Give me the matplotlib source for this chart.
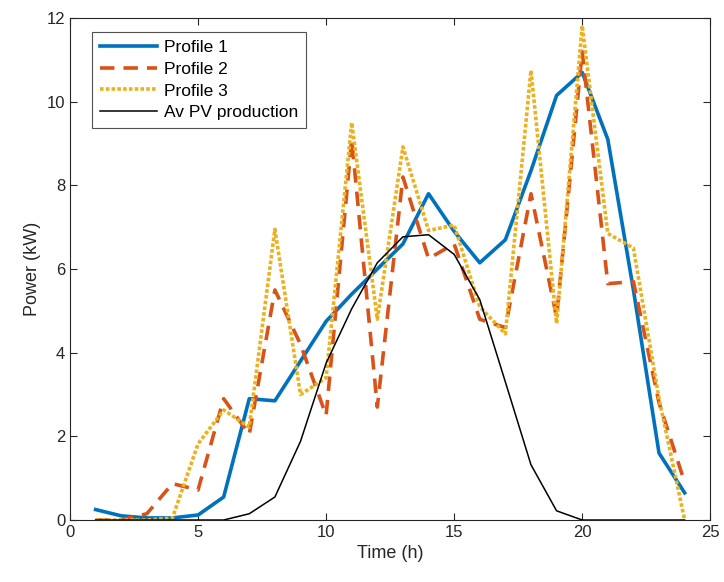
import matplotlib
matplotlib.use("Agg")
import matplotlib.pyplot as plt

hours = list(range(1, 25))
profile1 = [0.25, 0.1, 0.05, 0.05, 0.12, 0.55, 2.9, 2.85, 3.8, 4.75, 5.4, 6.0,
            6.6, 7.8, 6.9, 6.15, 6.7, 8.35, 10.15, 10.7, 9.1, 5.5, 1.6, 0.65]
profile2 = [0.0, 0.0, 0.15, 0.87, 0.72, 2.9, 2.05, 5.5, 4.2, 2.5, 9.1, 2.7,
            8.2, 6.25, 6.6, 4.8, 4.6, 7.8, 4.85, 11.2, 5.65, 5.7, 2.8, 0.9]
profile3 = [0.0, 0.0, 0.0, 0.05, 1.82, 2.63, 2.22, 6.95, 3.0, 3.4, 9.5, 4.8,
            8.92, 6.92, 7.05, 5.1, 4.45, 10.75, 4.7, 11.82, 6.85, 6.5, 2.9, 0.0]
pv = [0.0, 0.0, 0.0, 0.0, 0.0, 0.0, 0.15, 0.55, 1.88, 3.75, 5.05, 6.15,
      6.77, 6.82, 6.35, 5.27, 3.3, 1.32, 0.22, 0.0, 0.0, 0.0, 0.0, 0.0]

plt.rcParams['font.family'] = ['Liberation Sans', 'DejaVu Sans']

fig = plt.figure(figsize=(7.24, 5.82), dpi=100)
ax = fig.add_axes([0.0967, 0.1065, 0.8843, 0.8625])

ax.plot(hours, profile1, color='#0072BD', lw=2.6, label='Profile 1')
ax.plot(hours, profile2, color='#D95319', lw=2.6, ls=(0, (4, 2.5)), label='Profile 2')
ax.plot(hours, profile3, color='#EDB120', lw=2.6, ls=(0, (1, 0.6)), label='Profile 3')
ax.plot(hours, pv, color='black', lw=1.1, label='Av PV production')

ax.set_xlim(0, 25)
ax.set_ylim(0, 12)
ax.set_xticks([0, 5, 10, 15, 20, 25])
ax.set_yticks([0, 2, 4, 6, 8, 10, 12])
ax.tick_params(direction='in', top=True, right=True, labelsize=12, length=5,
               colors='#262626', labelcolor='#262626')
for s in ax.spines.values():
    s.set_color('#262626')
    s.set_linewidth(0.8)
ax.set_xlabel('Time (h)', fontsize=13, color='#262626')
ax.set_ylabel('Power (kW)', fontsize=13, color='#262626')

leg = ax.legend(loc='upper left', bbox_to_anchor=(0.034, 0.972), borderaxespad=0,
                fontsize=12.5, frameon=True, fancybox=False, edgecolor='#262626',
                handlelength=3.3, borderpad=0.45, labelspacing=0.38, handletextpad=0.4)
leg.get_frame().set_linewidth(0.8)

fig.savefig('out.png', dpi=100)
